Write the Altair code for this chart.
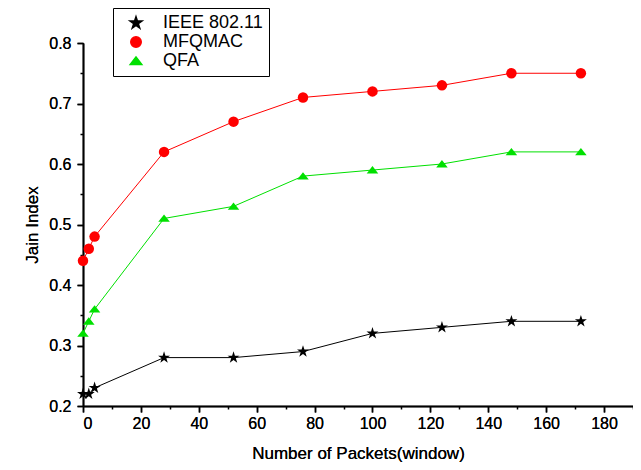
import altair as alt
import pandas as pd

x_vals = [0, 2, 4, 28, 52, 76, 100, 124, 148, 172]
ieee = [0.22, 0.22, 0.23, 0.28, 0.28, 0.29, 0.32, 0.33, 0.34, 0.34]
mfqmac = [0.44, 0.46, 0.48, 0.62, 0.67, 0.71, 0.72, 0.73, 0.75, 0.75]
qfa = [0.32, 0.34, 0.36, 0.51, 0.53, 0.58, 0.59, 0.60, 0.62, 0.62]
series = ["IEEE 802.11", "MFQMAC", "QFA"]
x_major = [0, 20, 40, 60, 80, 100, 120, 140, 160, 180]
x_minor = [10, 30, 50, 70, 90, 110, 130, 150, 170, 190]
y_major = [0.2, 0.3, 0.4, 0.5, 0.6, 0.7, 0.8]
y_minor = [0.25, 0.35, 0.45, 0.55, 0.65, 0.75]

rows = []
for name, vals in zip(series, [ieee, mfqmac, qfa]):
    for xv, yv in zip(x_vals, vals):
        rows.append({"x": xv, "y": yv, "series": name})
df = pd.DataFrame(rows)

star = ("M0,-1.2 L0.27,-0.37 L1.14,-0.37 L0.44,0.14 L0.71,0.97 "
        "L0,0.46 L-0.71,0.97 L-0.44,0.14 L-1.14,-0.37 L-0.27,-0.37 Z")
tri = "M0,-0.75 L1.1,0.65 L-1.1,0.65 Z"

FONT = "Liberation Sans"
xscale = alt.Scale(domain=[0, 190], nice=False, zero=False)
yscale = alt.Scale(domain=[0.2, 0.8], nice=False, zero=False)

leg = alt.Legend(title=None, orient="none", legendX=30, legendY=-35,
                 labelFontSize=18, labelFont=FONT, labelColor="black",
                 strokeColor="black", fillColor="white", padding=6,
                 rowPadding=1, labelOffset=18, symbolOpacity=1, symbolSize=110,
                 symbolOffset=8)
cscale = alt.Scale(domain=series, range=["black", "red", "#00e000"])

common = dict(labelFontSize=16, titleFontSize=17, titleFontWeight="normal",
              labelFont=FONT, titleFont=FONT, labelColor="black", titleColor="black",
              domainColor="black", domainWidth=1.5, tickColor="black", tickWidth=1.5,
              tickSize=6, grid=False)
xaxis = alt.Axis(values=x_major, title="Number of Packets(window)", orient="bottom",
                 titlePadding=14, labelPadding=3, **common)
yaxis = alt.Axis(values=y_major, title="Jain Index", orient="left", format=".1f",
                 titlePadding=7, labelPadding=6, **common)
xaxis_minor = alt.Axis(values=x_minor, labels=False, title=None, orient="bottom",
                       domainColor="black", domainWidth=1.5, tickColor="black", tickWidth=1.5,
                       tickSize=3, grid=False)
yaxis_minor = alt.Axis(values=y_minor, labels=False, title=None, orient="left",
                       domainColor="black", domainWidth=1.5, tickColor="black", tickWidth=1.5,
                       tickSize=3, grid=False)

base = alt.Chart(df)
lines = base.mark_line(strokeWidth=1).encode(
    x=alt.X("x:Q", scale=xscale, axis=xaxis),
    y=alt.Y("y:Q", scale=yscale, axis=yaxis),
    color=alt.Color("series:N", scale=cscale, legend=leg),
)
points = base.mark_point(filled=True, opacity=1, size=110).encode(
    x=alt.X("x:Q", scale=xscale, axis=xaxis),
    y=alt.Y("y:Q", scale=yscale, axis=yaxis),
    color=alt.Color("series:N", scale=cscale, legend=leg),
    shape=alt.Shape("series:N", scale=alt.Scale(domain=series, range=[star, "circle", tri]),
                    legend=leg),
)
minor = base.mark_point(opacity=0).encode(
    x=alt.X("x:Q", scale=xscale, axis=xaxis_minor),
    y=alt.Y("y:Q", scale=yscale, axis=yaxis_minor),
)

chart = alt.layer(lines, points, minor).resolve_axis(
    x="independent", y="independent"
).properties(
    width=550, height=363,
    background="white",
    autosize=alt.AutoSizeParams(type="none"),
    padding={"left": 75, "top": 35, "right": 0, "bottom": 56},
).configure_view(stroke="transparent", strokeWidth=0)

chart.save("out.html", embed_options={"renderer": "svg", "actions": False})
